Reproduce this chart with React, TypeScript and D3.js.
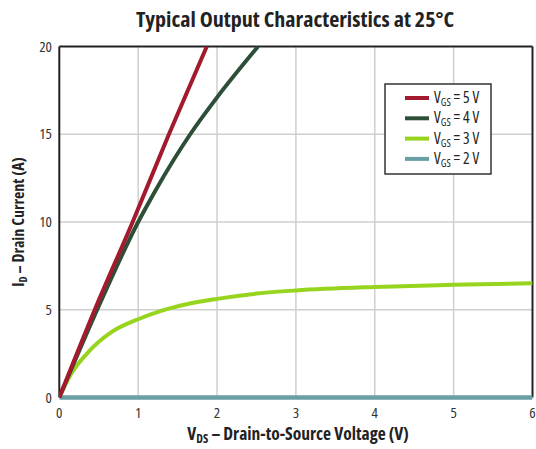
import React from "react";
import * as d3 from "d3";

const xTicks = [0, 1, 2, 3, 4, 5, 6];
const yTicks = [0, 5, 10, 15, 20];

const vgs5: [number, number][] = [[0, 0], [0.45, 5], [0.93, 10], [1.39, 15], [1.87, 20]];
const vgs4: [number, number][] = [[0, 0], [0.48, 5], [1.0, 10], [1.22, 11.8], [1.66, 15], [2.0, 17.1], [2.52, 20]];
const vgs3: [number, number][] = [[0, 0], [0.15, 1.35], [0.37, 2.6], [0.67, 3.75], [1, 4.46], [1.3, 4.95], [1.6, 5.3], [2, 5.62], [2.5, 5.92], [3, 6.1], [4, 6.3], [5, 6.42], [6, 6.51]];
const vgs2: [number, number][] = [[0, 0], [6, 0]];

const seriesNames = ["5", "4", "3", "2"];
const seriesData = [vgs5, vgs4, vgs3, vgs2];
const seriesColors = ["#a31a2e", "#2d4f37", "#96d41e", "#68a0a6"];

const FONT = "'Open Sans', 'DejaVu Sans Condensed', sans-serif";

export default function App() {
  const W = 536, H = 449;
  const x = d3.scaleLinear().domain([0, 6]).range([59.3, 532.5]);
  const y = d3.scaleLinear().domain([0, 20]).range([397.5, 46.5]);
  const line = d3.line<[number, number]>().x(d => x(d[0])).y(d => y(d[1])).curve(d3.curveMonotoneX);

  return (
    <svg width={W} height={H} style={{ position: "absolute", left: 0, top: 0, background: "#fff", fontStretch: "75%" }} fontFamily={FONT}>
      <defs>
        <clipPath id="plot">
          <rect x={x(0)} y={y(20)} width={x(6) - x(0)} height={y(0) - y(20) + 3} />
        </clipPath>
      </defs>
      <text x={295} y={27} textAnchor="middle" fontSize={22} fontWeight="bold" fill="#222">
        Typical Output Characteristics at 25°C
      </text>
      {xTicks.slice(1, -1).map(t => (
        <line key={"gx" + t} x1={x(t)} x2={x(t)} y1={y(0)} y2={y(20)} stroke="#cfcfcf" strokeWidth={1.5} />
      ))}
      {yTicks.slice(1, -1).map(t => (
        <line key={"gy" + t} x1={x(0)} x2={x(6)} y1={y(t)} y2={y(t)} stroke="#cfcfcf" strokeWidth={1.5} />
      ))}
      <line x1={x(0)} x2={x(6)} y1={y(20)} y2={y(20)} stroke="#222" strokeWidth={2} />
      <line x1={x(0)} x2={x(0)} y1={y(20)} y2={y(0)} stroke="#222" strokeWidth={2} />
      <line x1={x(6)} x2={x(6)} y1={y(20)} y2={y(0)} stroke="#222" strokeWidth={2} />
      <g clipPath="url(#plot)">
        {seriesData.slice().reverse().map((s, i) => {
          const idx = seriesData.length - 1 - i;
          return (
            <path key={idx} d={line(s) || ""} fill="none" stroke={seriesColors[idx]} strokeWidth={idx === 3 ? 4.5 : 4} strokeLinecap="butt" />
          );
        })}
      </g>
      {yTicks.map(t => (
        <text key={"ty" + t} x={52} y={y(t) + 5} textAnchor="end" fontSize={15} fill="#333">{t}</text>
      ))}
      {xTicks.map(t => (
        <text key={"tx" + t} x={x(t)} y={y(0) + 20} textAnchor="middle" fontSize={15} fill="#333">{t}</text>
      ))}
      <text x={298} y={440} textAnchor="middle" fontSize={17.5} fontWeight="bold" fill="#222">
        V<tspan fontSize={12} dy={3}>DS</tspan><tspan dy={-3}> – Drain-to-Source Voltage (V)</tspan>
      </text>
      <text transform={`translate(24, ${y(10)}) rotate(-90)`} textAnchor="middle" fontSize={16} fontWeight="bold" fill="#222">
        I<tspan fontSize={11} dy={3}>D</tspan><tspan dy={-3}> – Drain Current (A)</tspan>
      </text>
      <g>
        <rect x={385} y={84} width={106} height={90} fill="#fff" stroke="#333" strokeWidth={1.5} />
        {seriesNames.map((n, i) => {
          const cy = 98 + i * 20.3;
          return (
            <g key={n}>
              <line x1={405} x2={429} y1={cy} y2={cy} stroke={seriesColors[i]} strokeWidth={4} />
              <text x={434} y={cy + 5} fontSize={15.5} fill="#222">
                V<tspan fontSize={10.5} dy={3}>GS</tspan><tspan dy={-3}> = {n} V</tspan>
              </text>
            </g>
          );
        })}
      </g>
    </svg>
  );
}
